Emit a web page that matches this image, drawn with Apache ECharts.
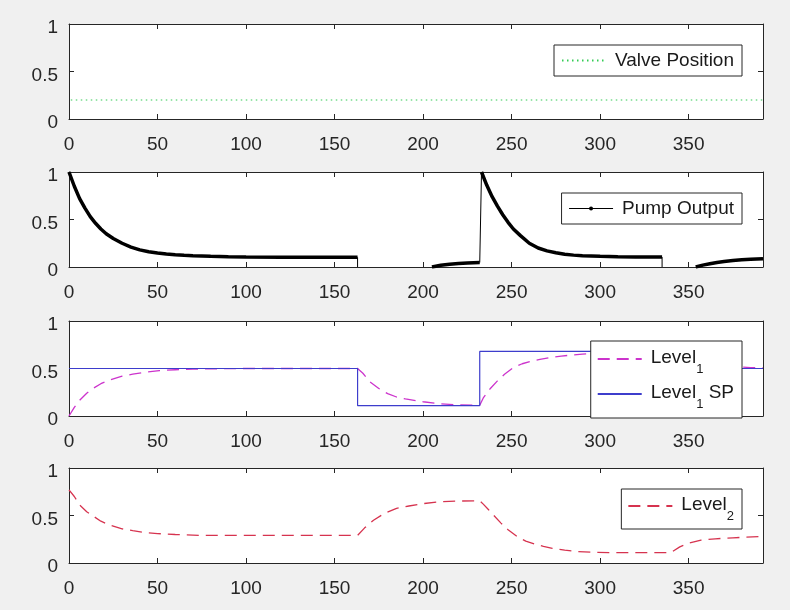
<!DOCTYPE html>
<html><head><meta charset="utf-8">
<script src="https://cdn.jsdelivr.net/npm/echarts@6/dist/echarts.min.js"></script>
<style>html,body{margin:0;padding:0;background:#f0f0f0}#c{width:790px;height:610px}</style>
</head><body><div id="c"></div>
<script>
// ---------- data ----------
const xMax = 392;
const xTickStep = 50;
const yTickStep = 0.5;

const valveT = [1, 392];
const valveY = [0.2, 0.2];

const pumpT1 = [0,3,6,9,12,15,18,21,25,30,35,40,45,50,55,60,65,70,80,90,100,120,140,163];
const pumpY1 = [1.0,0.85,0.72,0.62,0.53,0.46,0.40,0.35,0.30,0.25,0.21,0.18,0.16,0.148,0.138,0.13,0.123,0.118,0.112,0.108,0.105,0.103,0.102,0.102];
const pumpT2 = [205,210,215,220,225,232];
const pumpY2 = [0,0.018,0.03,0.037,0.042,0.047];
const pumpT3 = [233,236,239,242,245,248,251,255,260,265,270,275,280,285,290,300,310,320,335];
const pumpY3 = [1.0,0.86,0.74,0.64,0.55,0.47,0.40,0.33,0.25,0.20,0.17,0.15,0.135,0.125,0.118,0.112,0.108,0.106,0.105];
const pumpT4 = [354,358,362,366,370,375,380,385,392];
const pumpY4 = [0,0.02,0.035,0.048,0.058,0.068,0.076,0.082,0.088];
// steep transitions of the pump output (drawn thin)
const pumpJumpT = [[163,163],[232,233],[335,335]];
const pumpJumpY = [[0.102,0],[0.047,1.0],[0.105,0]];

const spT = [0,163,163,232,232,335,335,392];
const spY = [0.5,0.5,0.11,0.11,0.68,0.68,0.5,0.5];

const lv1T = [0,3,6,10,14,18,23,30,36,43,51,60,70,85,100,130,163,166,170,175,180,185,190,200,210,220,232,234,238,242,246,251,256,261,266,272,278,283,290,297,305,315,325,335,345,355,365,375,385,392];
const lv1Y = [0,0.09,0.165,0.24,0.295,0.34,0.38,0.42,0.44,0.46,0.477,0.487,0.494,0.498,0.5,0.5,0.5,0.45,0.36,0.29,0.235,0.20,0.18,0.15,0.127,0.117,0.113,0.19,0.29,0.37,0.44,0.51,0.55,0.575,0.595,0.615,0.63,0.64,0.652,0.66,0.667,0.673,0.677,0.68,0.62,0.57,0.54,0.52,0.51,0.505];

const lv2T = [0,3,6,10,14,18,23,30,36,43,50,60,75,100,130,163,167,172,178,185,192,200,210,220,232,234,237,240,244,248,253,258,263,268,273,280,287,295,305,320,340,345,350,357,365,375,392];
const lv2Y = [0.77,0.70,0.61,0.54,0.49,0.44,0.40,0.36,0.34,0.32,0.31,0.30,0.29,0.29,0.29,0.29,0.37,0.45,0.52,0.575,0.60,0.625,0.645,0.652,0.655,0.62,0.56,0.50,0.42,0.35,0.28,0.23,0.20,0.175,0.155,0.135,0.12,0.113,0.11,0.11,0.11,0.17,0.21,0.24,0.255,0.265,0.28];

// ---------- helpers ----------
const zip = (t, y) => t.map((v, i) => [v, y[i]]);
const pumpData = [].concat(zip(pumpT1,pumpY1), [[184,null]], zip(pumpT2,pumpY2), [[232.5,null]], zip(pumpT3,pumpY3), [[345,null]], zip(pumpT4,pumpY4));
const jumpData = [];
pumpJumpT.forEach((tt, k) => { if (k) jumpData.push([tt[0]-0.5, null]); jumpData.push([tt[0], pumpJumpY[k][0]], [tt[1], pumpJumpY[k][1]]); });

const FONT = "'Liberation Sans', Arial, Helvetica, sans-serif";
const INK = '#262626';
const TXT = '#1a1a1a';
const tops = [24, 172, 321, 468];
const H = 95;

const grid = [], xAxis = [], yAxis = [];
tops.forEach((top, i) => {
  grid.push({left: 69, right: 27, top: top, height: H, show: true, backgroundColor: '#fff', borderWidth: 0});
  const line = {onZero: false, lineStyle: {color: INK, width: 1}};
  const tick = {inside: true, length: 5, lineStyle: {color: INK, width: 1}};
  xAxis.push({gridIndex: i, type: 'value', min: 0, max: xMax, interval: xTickStep, position: 'bottom',
    axisLine: line, axisTick: tick, splitLine: {show: false},
    axisLabel: {showMaxLabel: false, margin: 16, fontSize: 19, color: INK, fontFamily: FONT}});
  xAxis.push({gridIndex: i, type: 'value', min: 0, max: xMax, interval: xTickStep, position: 'top',
    axisLine: line, axisTick: tick, splitLine: {show: false}, axisLabel: {show: false}});
  yAxis.push({gridIndex: i, type: 'value', min: 0, max: 1, interval: yTickStep, position: 'left',
    axisLine: line, axisTick: tick, splitLine: {show: false},
    axisLabel: {margin: 11, fontSize: 19, color: INK, fontFamily: FONT, verticalAlign: 'top', lineHeight: 8}});
  yAxis.push({gridIndex: i, type: 'value', min: 0, max: 1, interval: yTickStep, position: 'right',
    axisLine: line, axisTick: tick, splitLine: {show: false}, axisLabel: {show: false}});
});

const ax = i => ({xAxisIndex: 2*i, yAxisIndex: 2*i});
const series = [
  Object.assign({name: 'Valve Position', type: 'line', data: zip(valveT, valveY), symbol: 'none',
    lineStyle: {color: '#33cc55', width: 1.2, type: [1.5, 3.5]}, itemStyle: {color: '#33cc55'}}, ax(0)),
  Object.assign({name: 'Pump Output', type: 'line', data: pumpData, symbol: 'circle', showSymbol: false, symbolSize: 4,
    connectNulls: false, lineStyle: {color: '#000', width: 3.5}, itemStyle: {color: '#000'}}, ax(1)),
  Object.assign({name: 'pumpJump', type: 'line', data: jumpData, symbol: 'none', connectNulls: false,
    lineStyle: {color: '#000', width: 1}}, ax(1)),
  Object.assign({name: 'Level1', type: 'line', data: zip(lv1T, lv1Y), symbol: 'none',
    lineStyle: {color: '#cc33cc', width: 1.3, type: [12, 7]}, itemStyle: {color: '#cc33cc'}}, ax(2)),
  Object.assign({name: 'Level1 SP', type: 'line', data: zip(spT, spY), symbol: 'none',
    lineStyle: {color: '#3d3dcc', width: 1.2}, itemStyle: {color: '#3d3dcc'}}, ax(2)),
  Object.assign({name: 'Level2', type: 'line', data: zip(lv2T, lv2Y), symbol: 'none',
    lineStyle: {color: '#d6334f', width: 1.3, type: [12, 7]}, itemStyle: {color: '#d6334f'}}, ax(3)),
];
series.forEach(s => { s.animation = false; s.silent = true; });

const legBase = {
  right: 48, backgroundColor: '#fff', borderColor: INK, borderWidth: 1, borderRadius: 0,
  itemWidth: 44, itemHeight: 12, selectedMode: false, orient: 'vertical',
  itemStyle: {opacity: 0},
  textStyle: {fontSize: 19, color: TXT, fontFamily: FONT, padding: [0,0,0,4],
    rich: {
      main: {fontSize: 19, lineHeight: 22, color: TXT, fontFamily: FONT, verticalAlign: 'top'},
      sub: {fontSize: 13, lineHeight: 13, color: TXT, fontFamily: FONT, verticalAlign: 'top', padding: [15,0,0,0]}
    }},
  formatter: n => {
    const m = n.match(/^Level(\d)(.*)$/);
    return m ? '{main|Level}{sub|' + m[1] + '}' + (m[2] ? '{main|' + m[2] + '}' : '') : n;
  }
};
const legend = [
  Object.assign({}, legBase, {data: ['Valve Position'], top: 45, padding: [6, 8, 6, 7]}),
  Object.assign({}, legBase, {data: ['Pump Output'], top: 193, padding: [6, 8, 6, 7], itemHeight: 5,
    lineStyle: {width: 1}, itemStyle: {opacity: 1}}),
  Object.assign({}, legBase, {data: ['Level1', 'Level1 SP'], top: 341, padding: [7, 8, 7, 6], itemGap: 7}),
  Object.assign({}, legBase, {data: ['Level2'], top: 489, padding: [6, 8, 6, 6]}),
];

const chart = echarts.init(document.getElementById('c'), null, {renderer: 'canvas'});
chart.setOption({backgroundColor: '#f0f0f0', animation: false, grid, xAxis, yAxis, series, legend});
</script></body></html>
